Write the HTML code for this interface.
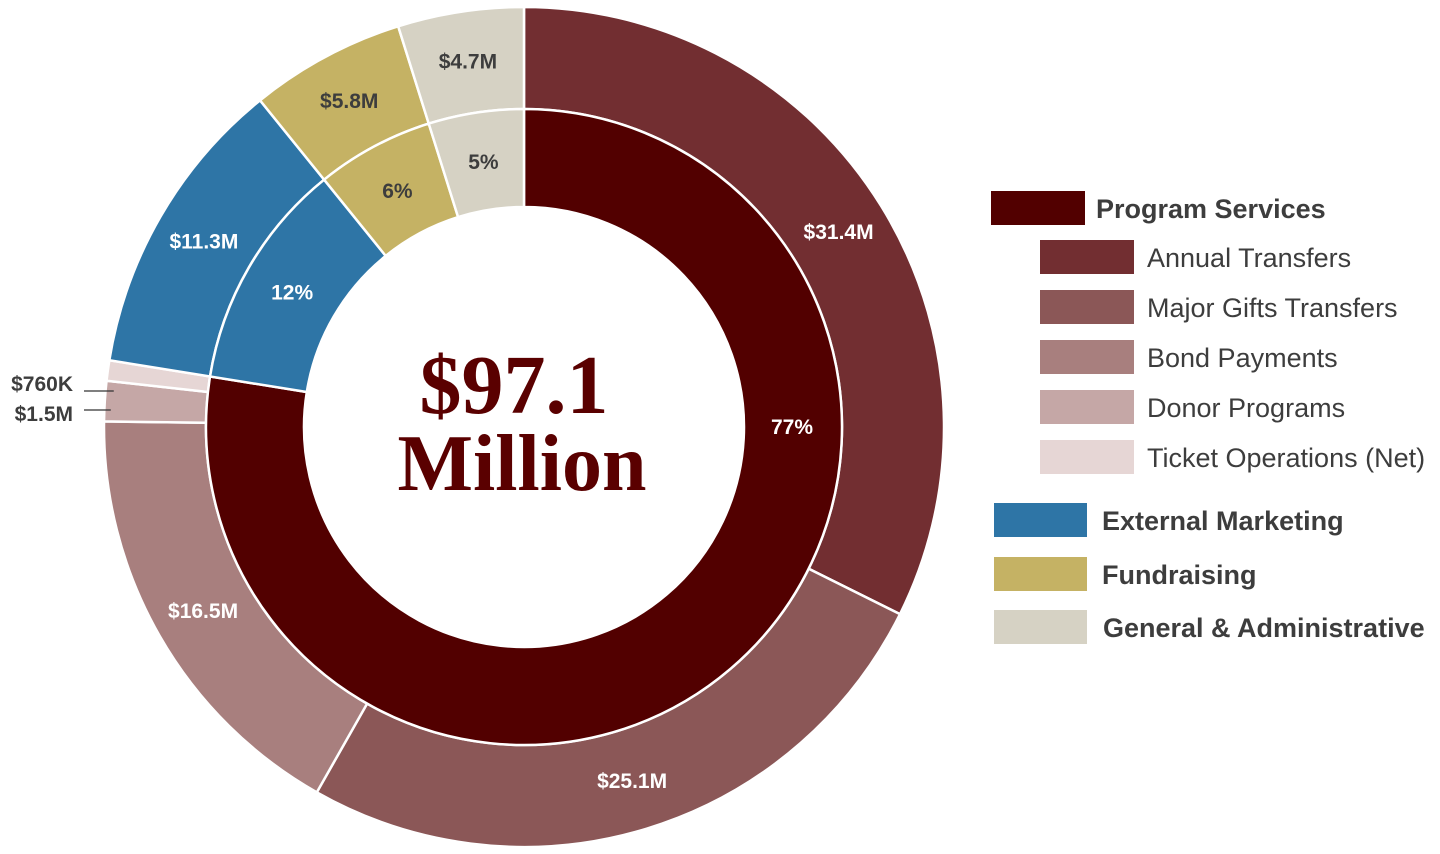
<!DOCTYPE html>
<html><head><meta charset="utf-8">
<style>
body{margin:0;background:#fff;}
svg{display:block;font-family:"Liberation Sans",Arial,sans-serif;}
</style></head>
<body>
<svg id="chart" width="1440" height="854" viewBox="0 0 1440 854"></svg>
<script>
const outerLabels = ["Annual Transfers","Major Gifts Transfers","Bond Payments","Donor Programs","Ticket Operations (Net)","External Marketing","Fundraising","General & Administrative"];
const outerValues = [31.4, 25.1, 16.5, 1.5, 0.76, 11.3, 5.8, 4.7];
const outerText = ["$31.4M","$25.1M","$16.5M","$1.5M","$760K","$11.3M","$5.8M","$4.7M"];
const outerColors = ["#722e31","#8b5757","#a87f7e","#c5a7a6","#e6d6d5","#2e75a6","#c5b264","#d6d2c4"];
const innerLabels = ["Program Services","External Marketing","Fundraising","General & Administrative"];
const innerValues = [75.26, 11.3, 5.8, 4.7];
const innerText = ["77%","12%","6%","5%"];
const innerColors = ["#520000","#2e75a6","#c5b264","#d6d2c4"];

const NS="http://www.w3.org/2000/svg";
const svg=document.getElementById('chart');
const cx=524, cy=427;
function mk(tag,attrs,parent){const e=document.createElementNS(NS,tag);for(const k in attrs)e.setAttribute(k,attrs[k]);(parent||svg).appendChild(e);return e;}
function pt(r,a){return [cx+r*Math.sin(a), cy-r*Math.cos(a)];}
function arc(r0,r1,a0,a1){
  const large=(a1-a0)>Math.PI?1:0;
  const p0=pt(r1,a0),p1=pt(r1,a1),p2=pt(r0,a1),p3=pt(r0,a0);
  return `M${p0[0]},${p0[1]}A${r1},${r1} 0 ${large} 1 ${p1[0]},${p1[1]}L${p2[0]},${p2[1]}A${r0},${r0} 0 ${large} 0 ${p3[0]},${p3[1]}Z`;
}
function ring(values,colors,texts,r0,r1,nameBase,labelR){
  const tot=values.reduce((a,b)=>a+b,0);
  let a=0;
  values.forEach((v,i)=>{
    const a1=a+v/tot*2*Math.PI;
    const p=mk('path',{d:arc(r0,r1,a,a1),fill:colors[i],stroke:'#fff','stroke-width':2.5});
    
    
    let mid=(a+a1)/2;
    if(v/tot>0.5) mid=Math.PI/2;
    if(v/tot>0.03){
      const q=pt(labelR,mid);
      const col=(colors[i]==='#d6d2c4'||colors[i]==='#c5b264')?'#3d3d3d':'#fff';
      const t=mk('text',{x:q[0],y:q[1]+7,'text-anchor':'middle','font-size':21,'font-weight':'bold',fill:col});
      t.textContent=texts[i];
      
      
    } else {
      const q=pt(r1-6,mid);
      const ly=i===3?410:391;
      const ln=mk('line',{x1:84,y1:ly,x2:q[0],y2:ly,stroke:'#333','stroke-width':1.3});
      
      
      const t=mk('text',{x:73,y:(i===3?421:391),'text-anchor':'end','font-size':21,'font-weight':'bold',fill:'#3d3d3d'});
      t.textContent=texts[i];
      
      
    }
    a=a1;
  });
}
ring(outerValues,outerColors,outerText,318,420,'outer',370);
ring(innerValues,innerColors,innerText,220,318,'inner',268);

const c1=mk('text',{x:514,y:413,'text-anchor':'middle','font-family':'"Liberation Serif",serif','font-size':84,'font-weight':'bold',fill:'#5a0000'});
c1.textContent='$97.1';


const c2=mk('text',{x:522,y:490,'text-anchor':'middle','font-family':'"Liberation Serif",serif','font-size':80,'font-weight':'bold',fill:'#5a0000'});
c2.textContent='Million';



const legItems=[
 {t:"Program Services",c:"#520000",x:991,y:191,w:94,h:34,tx:1096,b:true},
 {t:"Annual Transfers",c:"#722e31",x:1040,y:240,w:94,h:34,tx:1147,b:false},
 {t:"Major Gifts Transfers",c:"#8b5757",x:1040,y:290,w:94,h:34,tx:1147,b:false},
 {t:"Bond Payments",c:"#a87f7e",x:1040,y:340,w:94,h:34,tx:1147,b:false},
 {t:"Donor Programs",c:"#c5a7a6",x:1040,y:390,w:94,h:34,tx:1147,b:false},
 {t:"Ticket Operations (Net)",c:"#e6d6d5",x:1040,y:440,w:94,h:34,tx:1147,b:false},
 {t:"External Marketing",c:"#2e75a6",x:994,y:503,w:93,h:34,tx:1102,b:true},
 {t:"Fundraising",c:"#c5b264",x:994,y:557,w:93,h:34,tx:1102,b:true},
 {t:"General & Administrative",c:"#d6d2c4",x:994,y:610,w:93,h:34,tx:1103,b:true}
];
legItems.forEach((L,i)=>{
  const r=mk('rect',{x:L.x,y:L.y,width:L.w,height:L.h,fill:L.c});
  
  
  const t=mk('text',{x:L.tx,y:L.y+27,'font-size':27,'font-weight':L.b?'bold':'normal',fill:'#3d3d3d'});
  t.textContent=L.t;
  
  
});
</script>
</body></html>
